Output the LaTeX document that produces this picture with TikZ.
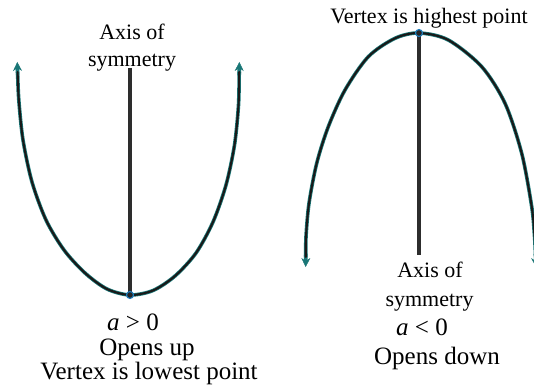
\documentclass[tikz,border=0pt]{standalone}
\usepackage{fontspec}
\setmainfont{Liberation Serif}
\usetikzlibrary{arrows.meta}
\definecolor{curveteal}{RGB}{25,118,118}
\definecolor{axisgray}{RGB}{45,45,45}
\definecolor{dotblue}{RGB}{30,125,190}
\tikzset{
  curveouter/.style={draw=curveteal,line width=3.6pt,line cap=round},
  curveinner/.style={draw=black!90,line width=2.1pt,line cap=round},
  tipstyle/.style={-{Stealth[length=9pt,width=9pt,inset=3pt,line width=0.5pt,fill=curveteal,color=curveteal]}},
  axisline/.style={draw=axisgray,line width=3.3pt},
  vdot/.style={circle,draw=dotblue,fill=black!85,line width=1.1pt,minimum size=7pt,inner sep=0pt},
  smalllab/.style={anchor=base,inner sep=0pt,font=\fontsize{22}{26}\selectfont},
  biglab/.style={anchor=base,inner sep=0pt,font=\fontsize{25}{29}\selectfont},
}
\begin{document}
\begin{tikzpicture}[x=1pt,y=-1pt]
\useasboundingbox (0,0) rectangle (534,387);
\begin{scope}
\clip (0,0) rectangle (534,387);
% left parabola (opens up)
\coordinate (v1) at (130,295);
\coordinate (a1top) at (130,68);
\coordinate (t1l) at (17.3,62);
\coordinate (t1r) at (239.3,62);
\draw[axisline] (a1top) -- (v1);
\draw[curveouter] plot[smooth] coordinates {(17.6,72) (18.8,100) (23,140) (32,182) (46,220) (64,250) (85,273) (107,289) (130,295) (153,290.5) (175,276) (196,253) (213,222) (226,185) (234.5,145) (238.5,105) (239.2,72)};
\draw[curveouter,tipstyle] (17.6,75) -- (t1l);
\draw[curveouter,tipstyle] (239.2,75) -- (t1r);
\draw[curveinner] plot[smooth] coordinates {(17.6,72) (18.8,100) (23,140) (32,182) (46,220) (64,250) (85,273) (107,289) (130,295) (153,290.5) (175,276) (196,253) (213,222) (226,185) (234.5,145) (238.5,105) (239.2,72)};
\node[vdot] (d1) at (v1) {};
% right parabola (opens down)
\coordinate (v2) at (419,33);
\coordinate (a2bot) at (419,255);
\coordinate (t2l) at (305.7,267);
\coordinate (t2r) at (536,267);
\draw[axisline] (v2) -- (a2bot);
\draw[curveouter] plot[smooth] coordinates {(305.8,257) (306,236.7) (309,203.3) (316.7,163.3) (328.3,126.7) (345,90) (368.3,56.7) (395,38.3) (419,33) (448.3,40) (481.7,66.7) (505,103.3) (521.7,153.3) (531.7,206.7) (534.5,236) (535.6,257)};
\draw[curveouter,tipstyle] (305.8,254) -- (t2l);
\draw[curveouter,tipstyle] (535.5,254) -- (t2r);
\draw[curveinner] plot[smooth] coordinates {(305.8,257) (306,236.7) (309,203.3) (316.7,163.3) (328.3,126.7) (345,90) (368.3,56.7) (395,38.3) (419,33) (448.3,40) (481.7,66.7) (505,103.3) (521.7,153.3) (531.7,206.7) (534.5,236) (535.6,257)};
\node[vdot] (d2) at (v2) {};
\end{scope}
% labels left
\node[smalllab] (ax1a) at (132,39.5) {Axis of};
\node[smalllab] (ax1b) at (132,66.7) {symmetry};
\node[biglab] (cond1) at (133,330) {\textit{a} > 0};
\node[biglab] (open1) at (147,355) {Opens up};
\node[biglab] (vx1) at (149,379) {Vertex is lowest point};
% labels right
\node[smalllab] (vx2) at (429,24) {Vertex is highest point};
\node[smalllab] (ax2a) at (430,277.7) {Axis of};
\node[smalllab] (ax2b) at (429.5,306) {symmetry};
\node[biglab] (cond2) at (422,335) {\textit{a} < 0};
\node[biglab] (open2) at (437,364) {Opens down};
\end{tikzpicture}
\end{document}
